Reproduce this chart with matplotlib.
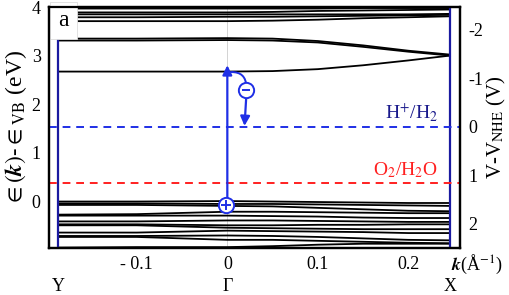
import matplotlib
matplotlib.use('Agg')
import matplotlib.pyplot as plt
import numpy as np

plt.rcParams['font.family'] = ['Liberation Serif', 'DejaVu Serif']
plt.rcParams['mathtext.fontset'] = 'stix'

# k-points (1/Angstrom) along Y - Gamma - X
k_pts = [-0.187, -0.1, 0.0, 0.05, 0.1, 0.15, 0.2, 0.246]
k_Y, k_G, k_X = -0.187, 0.0, 0.246

# conduction bands (eV)
cb = [
    [2.67, 2.67, 2.67, 2.68, 2.72, 2.80, 2.90, 3.00],
    [3.31, 3.31, 3.32, 3.31, 3.27, 3.18, 3.08, 3.00],
    [3.35, 3.35, 3.36, 3.35, 3.30, 3.21, 3.10, 3.02],
    [3.71, 3.71, 3.71, 3.72, 3.74, 3.77, 3.79, 3.81],
    [3.79, 3.79, 3.80, 3.80, 3.81, 3.82, 3.83, 3.84],
    [3.85, 3.85, 3.85, 3.85, 3.85, 3.85, 3.85, 3.86],
    [3.89, 3.89, 3.89, 3.90, 3.92, 3.93, 3.94, 3.95],
    [3.97, 3.97, 3.97, 3.97, 3.97, 3.98, 3.98, 3.98],
]
# valence bands (eV)
vb = [
    [-0.01, -0.01, 0.00, -0.01, -0.02, -0.03, -0.04, -0.04],
    [-0.05, -0.05, -0.06, -0.06, -0.07, -0.08, -0.09, -0.10],
    [-0.08, -0.08, -0.10, -0.11, -0.14, -0.17, -0.20, -0.21],
    [-0.28, -0.27, -0.22, -0.22, -0.23, -0.24, -0.25, -0.25],
    [-0.30, -0.30, -0.30, -0.31, -0.32, -0.34, -0.35, -0.35],
    [-0.42, -0.42, -0.40, -0.40, -0.41, -0.42, -0.43, -0.43],
    [-0.48, -0.48, -0.50, -0.50, -0.49, -0.49, -0.48, -0.48],
    [-0.50, -0.50, -0.55, -0.56, -0.57, -0.58, -0.58, -0.58],
    [-0.65, -0.65, -0.61, -0.62, -0.63, -0.64, -0.66, -0.66],
    [-0.72, -0.72, -0.71, -0.72, -0.74, -0.77, -0.80, -0.81],
    [-0.74, -0.74, -0.80, -0.80, -0.82, -0.84, -0.86, -0.87],
    [-0.96, -0.95, -0.95, -0.93, -0.90, -0.88, -0.88, -0.88],
]

E_H2 = 1.53    # H+/H2 level (eV)
E_O2 = 0.38    # O2/H2O level (eV)
vnhe_ticks = [-2, -1, 0, 1, 2]

fig = plt.figure(figsize=(5.1, 2.95), dpi=100)
ax = fig.add_axes([0.096, 0.159, 0.806, 0.817])

ax.axvline(k_G, color='#cccccc', lw=0.6, zorder=0)
for b in cb + vb:
    ax.plot(k_pts, b, color='black', lw=1.3, zorder=2)

navy = '#1a1aa0'
blue = '#1f2fe6'
ax.axvline(k_Y, color=navy, lw=1.6, zorder=3)
ax.axvline(k_X, color=navy, lw=1.6, zorder=3)

ax.axhline(E_H2, color=blue, lw=1.4, ls=(0, (4, 3)), zorder=3)
ax.axhline(E_O2, color='#ff2020', lw=1.4, ls=(0, (4, 3)), zorder=3)
ax.text(0.233, E_H2 + 0.06, r'H$^{+}$/H$_2$', color='#1a1a8c', fontsize=14,
        ha='right', va='bottom')
ax.text(0.233, E_O2 + 0.06, r'O$_2$/H$_2$O', color='#ff2020', fontsize=14,
        ha='right', va='bottom')

# excitation arrow
ax.annotate('', xy=(0.0, 2.80), xytext=(0.0, -0.08),
            arrowprops=dict(arrowstyle='-|>', color=blue, lw=1.6,
                            mutation_scale=14, shrinkA=0, shrinkB=0), zorder=5)
ax.annotate('', xy=(0.021, 2.36), xytext=(0.004, 2.66),
            arrowprops=dict(arrowstyle='-', color=blue, lw=1.4,
                            connectionstyle='arc3,rad=-0.5', shrinkA=0, shrinkB=0), zorder=5)
ax.annotate('', xy=(0.019, 1.55), xytext=(0.021, 2.18),
            arrowprops=dict(arrowstyle='-|>', color=blue, lw=1.6,
                            mutation_scale=14, shrinkA=0, shrinkB=0), zorder=5)
ax.plot([0.021], [2.28], 'o', ms=11, mfc='white', mec=blue, mew=1.4, zorder=6)
ax.plot([0.021], [2.28], '_', ms=6, mec=blue, mew=1.4, zorder=7)
ax.plot([-0.002], [-0.08], 'o', ms=11, mfc='white', mec=blue, mew=1.4, zorder=6)
ax.plot([-0.002], [-0.08], '+', ms=7, mec=blue, mew=1.4, zorder=7)

ax.text(0.035, 0.945, 'a', transform=ax.transAxes, fontsize=17, ha='center', va='center',
        bbox=dict(boxstyle='square,pad=0.35', fc='white', ec='#dddddd', lw=0.6), zorder=8)

ax.set_xlim(-0.197, 0.257)
ax.set_ylim(-0.97, 4.0)
ax.set_xticks([-0.1, 0.0, 0.1, 0.2])
ax.set_xticklabels(['- 0.1', '0', '0.1', '0.2'])
ax.set_yticks([0, 1, 2, 3, 4])
ax.tick_params(length=0, labelsize=13, pad=6)
for s in ax.spines.values():
    s.set_linewidth(1.6)

ax.set_ylabel(r'$\in(\mathbfit{k})\text{-}\in_{\mathrm{VB}}$ (eV)', fontsize=17, labelpad=2)

ax2 = ax.twinx()
ax2.set_ylim(E_H2 - (-0.97), E_H2 - 4.0)
ax2.set_yticks(vnhe_ticks)
ax2.set_yticklabels(['-2', '-1', '0', '1', '2'])
ax2.tick_params(length=0, labelsize=13, pad=6)
ax2.set_ylabel(r'V-V$_{\mathrm{NHE}}$ (V)', fontsize=15, labelpad=1)
for s in ax2.spines.values():
    s.set_linewidth(1.6)

# k-axis unit and high-symmetry point labels
ax.text(1.04, -0.068, r'$\mathbfit{k}$(Å$^{-1}$)', transform=ax.transAxes,
        fontsize=13, ha='center', va='center')
for kk, lab in zip([k_Y, k_G, k_X], ['Y', 'Γ', 'X']):
    ax.annotate(lab, xy=(kk, 0), xycoords=('data', 'axes fraction'),
                xytext=(0, -28), textcoords='offset points', ha='center', va='center',
                fontsize=13)

fig.savefig('out.png', dpi=100)
